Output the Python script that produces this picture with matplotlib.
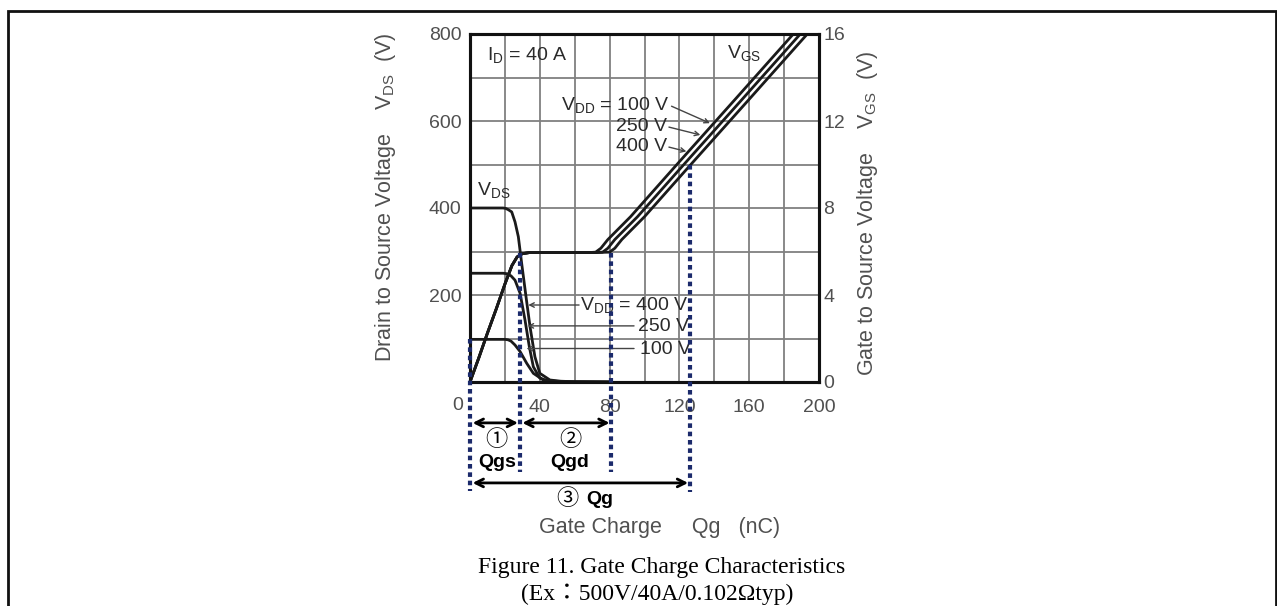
import matplotlib
matplotlib.use("Agg")
import matplotlib.pyplot as plt
from matplotlib.patches import Rectangle

plt.rcParams["font.family"] = ["Liberation Sans", "Noto Sans CJK JP", "DejaVu Sans"]
plt.rcParams["mathtext.fontset"] = "custom"
plt.rcParams["mathtext.rm"] = "Liberation Sans"
plt.rcParams["mathtext.it"] = "Liberation Sans:italic"
plt.rcParams["mathtext.bf"] = "Liberation Sans:bold"

# gate-source voltage curves (nC, V)
q_vgs_100 = [0, 5, 10, 15, 20, 24, 27, 30, 34, 40, 50, 60, 68, 72, 75, 79, 92, 118, 152, 185.3]
vgs_100 = [0, 1.1, 2.25, 3.35, 4.5, 5.35, 5.75, 5.9, 5.95, 5.95, 5.95, 5.95, 5.95, 5.97, 6.15, 6.55, 7.6, 9.95, 13.0, 16.0]
q_vgs_250 = [0, 5, 10, 15, 20, 24, 27, 30, 34, 40, 50, 60, 72, 76, 79, 83, 96, 122, 156, 189.3]
vgs_250 = [0, 1.1, 2.25, 3.35, 4.5, 5.35, 5.75, 5.9, 5.95, 5.95, 5.95, 5.95, 5.95, 5.97, 6.15, 6.55, 7.6, 9.95, 13.0, 16.0]
q_vgs_400 = [0, 5, 10, 15, 20, 24, 27, 30, 34, 40, 50, 60, 70, 80, 83, 87, 100, 126, 160, 193.3]
vgs_400 = [0, 1.1, 2.25, 3.35, 4.5, 5.35, 5.75, 5.9, 5.95, 5.95, 5.95, 5.95, 5.95, 5.97, 6.15, 6.55, 7.6, 9.95, 13.0, 16.0]

# drain-source voltage curves (nC, V)
q_vds_100 = [0, 10, 20, 21.8, 23.5, 25.8, 28.7, 32.5, 36.3, 42, 48, 55, 80]
vds_100 = [98, 98, 98, 97, 94, 85, 70, 43, 20, 4.6, 1.5, 0.5, 0]
q_vds_250 = [0, 10, 19, 21, 23.5, 25.8, 28.7, 31.5, 34, 36.3, 40, 44, 50, 58, 80]
vds_250 = [250, 250, 250, 249, 244, 234, 204, 143, 81, 35, 9, 3.5, 1.5, 0.5, 0]
q_vds_400 = [0, 10, 19, 20.5, 22, 23.9, 25.8, 27.7, 29.6, 32.1, 34.4, 37.2, 40, 45.8, 52, 60, 80]
vds_400 = [400, 400, 400, 399, 396, 391, 368, 334, 273, 196, 127, 58, 20, 4.6, 1.8, 0.6, 0]

# charge boundaries (nC) and where the markers start (V on left axis)
q_marks = [0, 28.6, 81, 126]
v_mark_top = [98, 296, 296, 498]
v_mark_bottom = [-250, -206, -206, -252]

x_ticks = [0, 20, 40, 60, 80, 100, 120, 140, 160, 180, 200]
x_labels = ["", "", "40", "", "80", "", "120", "", "160", "", "200"]
yl_ticks = [0, 100, 200, 300, 400, 500, 600, 700, 800]
yl_labels = ["", "", "200", "", "400", "", "600", "", "800"]
yr_ticks = [0, 2, 4, 6, 8, 10, 12, 14, 16]
yr_labels = ["0", "", "4", "", "8", "", "12", "", "16"]

txt = "#2a2a2a"
lab = "#505050"
navy = "#1b2a6b"
cw = 2.0

fig = plt.figure(figsize=(12.77, 6.06), dpi=100)
ax = fig.add_axes([470 / 1277, 1 - 382 / 606, 349 / 1277, 348 / 606])
ax2 = ax.twinx()
ax.set_zorder(2)
ax2.set_zorder(1)
ax.patch.set_visible(False)

ax.set_xlim(0, 200)
ax.set_ylim(0, 800)
ax2.set_ylim(0, 16)

# grid lives on the twin so curves sit above it
ax2.xaxis.set_visible(True)
ax2.set_xticks(x_ticks)
ax2.set_yticks(yr_ticks)
ax2.set_yticklabels(yr_labels)
ax2.grid(True, color="#808080", linewidth=1.3)
ax2.tick_params(axis="x", labelbottom=False, length=0)
ax2.tick_params(axis="y", length=0, pad=3, labelsize=14, labelcolor=lab)

ax.set_xticks(x_ticks)
ax.set_xticklabels(x_labels)
ax.set_yticks(yl_ticks)
ax.set_yticklabels(yl_labels)
ax.tick_params(axis="x", length=0, pad=12, labelsize=14, labelcolor=lab)
ax.tick_params(axis="y", length=0, pad=6, labelsize=14, labelcolor=lab)
for a in (ax, ax2):
    for s in a.spines.values():
        s.set_linewidth(2.2)
        s.set_color("#111111")

ax2.plot(q_vgs_100, vgs_100, color="#1a1a1a", lw=cw)
ax2.plot(q_vgs_250, vgs_250, color="#1a1a1a", lw=cw)
ax2.plot(q_vgs_400, vgs_400, color="#1a1a1a", lw=cw)
ax.plot(q_vds_100, vds_100, color="#1a1a1a", lw=cw)
ax.plot(q_vds_250, vds_250, color="#1a1a1a", lw=cw)
ax.plot(q_vds_400, vds_400, color="#1a1a1a", lw=cw)

# dotted boundary markers
for q, v0, v1 in zip(q_marks, v_mark_top, v_mark_bottom):
    ax.plot([q, q], [v0, v1], color=navy, lw=3, linestyle=(0, (1.1, 0.9)),
            clip_on=False, zorder=5)

# labels inside the plot
fs = 14
ax.text(9.5, 752, r"I$_{\mathrm{D}}$ = 40 A", fontsize=fs, color=txt, va="center")
ax.text(147, 756, r"V$_{\mathrm{GS}}$", fontsize=fs, color=txt, va="center")
ax.text(3.8, 441, r"V$_{\mathrm{DS}}$", fontsize=fs, color=txt, va="center")
ax.text(114.6, 637, r"V$_{\mathrm{DD}}$ = 100 V", fontsize=fs, color=txt, va="center", ha="right")
ax.text(113, 588, "250 V", fontsize=fs, color=txt, va="center", ha="right")
ax.text(113, 542, "400 V", fontsize=fs, color=txt, va="center", ha="right")
lead = dict(arrowstyle="->", color="#444444", lw=1.0, shrinkA=0, shrinkB=0, mutation_scale=8)
ax.annotate("", xy=(137.5, 595), xytext=(115.5, 634), arrowprops=lead)
ax.annotate("", xy=(132, 568), xytext=(114, 586), arrowprops=lead)
ax.annotate("", xy=(124, 530), xytext=(114, 540), arrowprops=lead)

ax.text(63, 177, r"V$_{\mathrm{DD}}$ = 400 V", fontsize=fs, color=txt, va="center")
ax.text(96.3, 127, "250 V", fontsize=fs, color=txt, va="center")
ax.text(97.4, 74, "100 V", fontsize=fs, color=txt, va="center")
ax.annotate("", xy=(33.4, 177), xytext=(62.5, 177), arrowprops=lead)
ax.annotate("", xy=(33, 129), xytext=(94, 129), arrowprops=lead)
ax.annotate("", xy=(32.4, 77), xytext=(94, 77), arrowprops=lead)

# charge span arrows under the axis
span = dict(arrowstyle="<->", color="black", lw=2, shrinkA=0, shrinkB=0, mutation_scale=14)
ax.annotate("", xy=(1.5, -94), xytext=(27.5, -94), arrowprops=span, annotation_clip=False)
ax.annotate("", xy=(30, -94), xytext=(80, -94), arrowprops=span, annotation_clip=False)
ax.annotate("", xy=(1.5, -232), xytext=(125, -232), arrowprops=span, annotation_clip=False)
ax.text(15.3, -135, "\u2460", fontsize=16, ha="center", va="center", clip_on=False)
ax.text(15.3, -186, "Qgs", fontsize=14, fontweight="bold", ha="center", va="center", clip_on=False)
ax.text(57.3, -135, "\u2461", fontsize=16, ha="center", va="center", clip_on=False)
ax.text(57.3, -186, "Qgd", fontsize=14, fontweight="bold", ha="center", va="center", clip_on=False)
ax.text(55.6, -271, "\u2462", fontsize=16, ha="center", va="center", clip_on=False)
ax.text(74.5, -271, "Qg", fontsize=14, fontweight="bold", ha="center", va="center", clip_on=False)
ax.text(-7, -55, "0", fontsize=14, color=lab, ha="center", va="center", clip_on=False)

# axis titles
fig.text(660 / 1277, 1 - 528 / 606, "Gate Charge     Qg   (nC)", fontsize=15.5, color=lab,
         ha="center", va="center")
fig.text(385 / 1277, 1 - 197 / 606, r"Drain to Source Voltage    V$_{\mathrm{DS}}$  (V)",
         fontsize=15.5, color=lab, rotation=90, ha="center", va="center")
fig.text(867 / 1277, 1 - 213 / 606, r"Gate to Source Voltage    V$_{\mathrm{GS}}$  (V)",
         fontsize=15.5, color=lab, rotation=90, ha="center", va="center")

# caption
fig.text(662 / 1277, 1 - 567 / 606, "Figure 11. Gate Charge Characteristics", fontsize=17,
         family=["Liberation Serif", "Noto Sans CJK JP"], ha="center", va="center")
fig.text(657 / 1277, 1 - 594 / 606, "(Ex\uff1a500V/40A/0.102\u03a9typ)", fontsize=17,
         family=["Liberation Serif", "Noto Sans CJK JP"], ha="center", va="center")

# page frame
fig.patches.append(Rectangle((8 / 1277, -0.05), 1267.5 / 1277, 1.05 - 11 / 606,
                             transform=fig.transFigure, fill=False, lw=2, edgecolor="#111111"))

fig.savefig("out.png", dpi=100)
